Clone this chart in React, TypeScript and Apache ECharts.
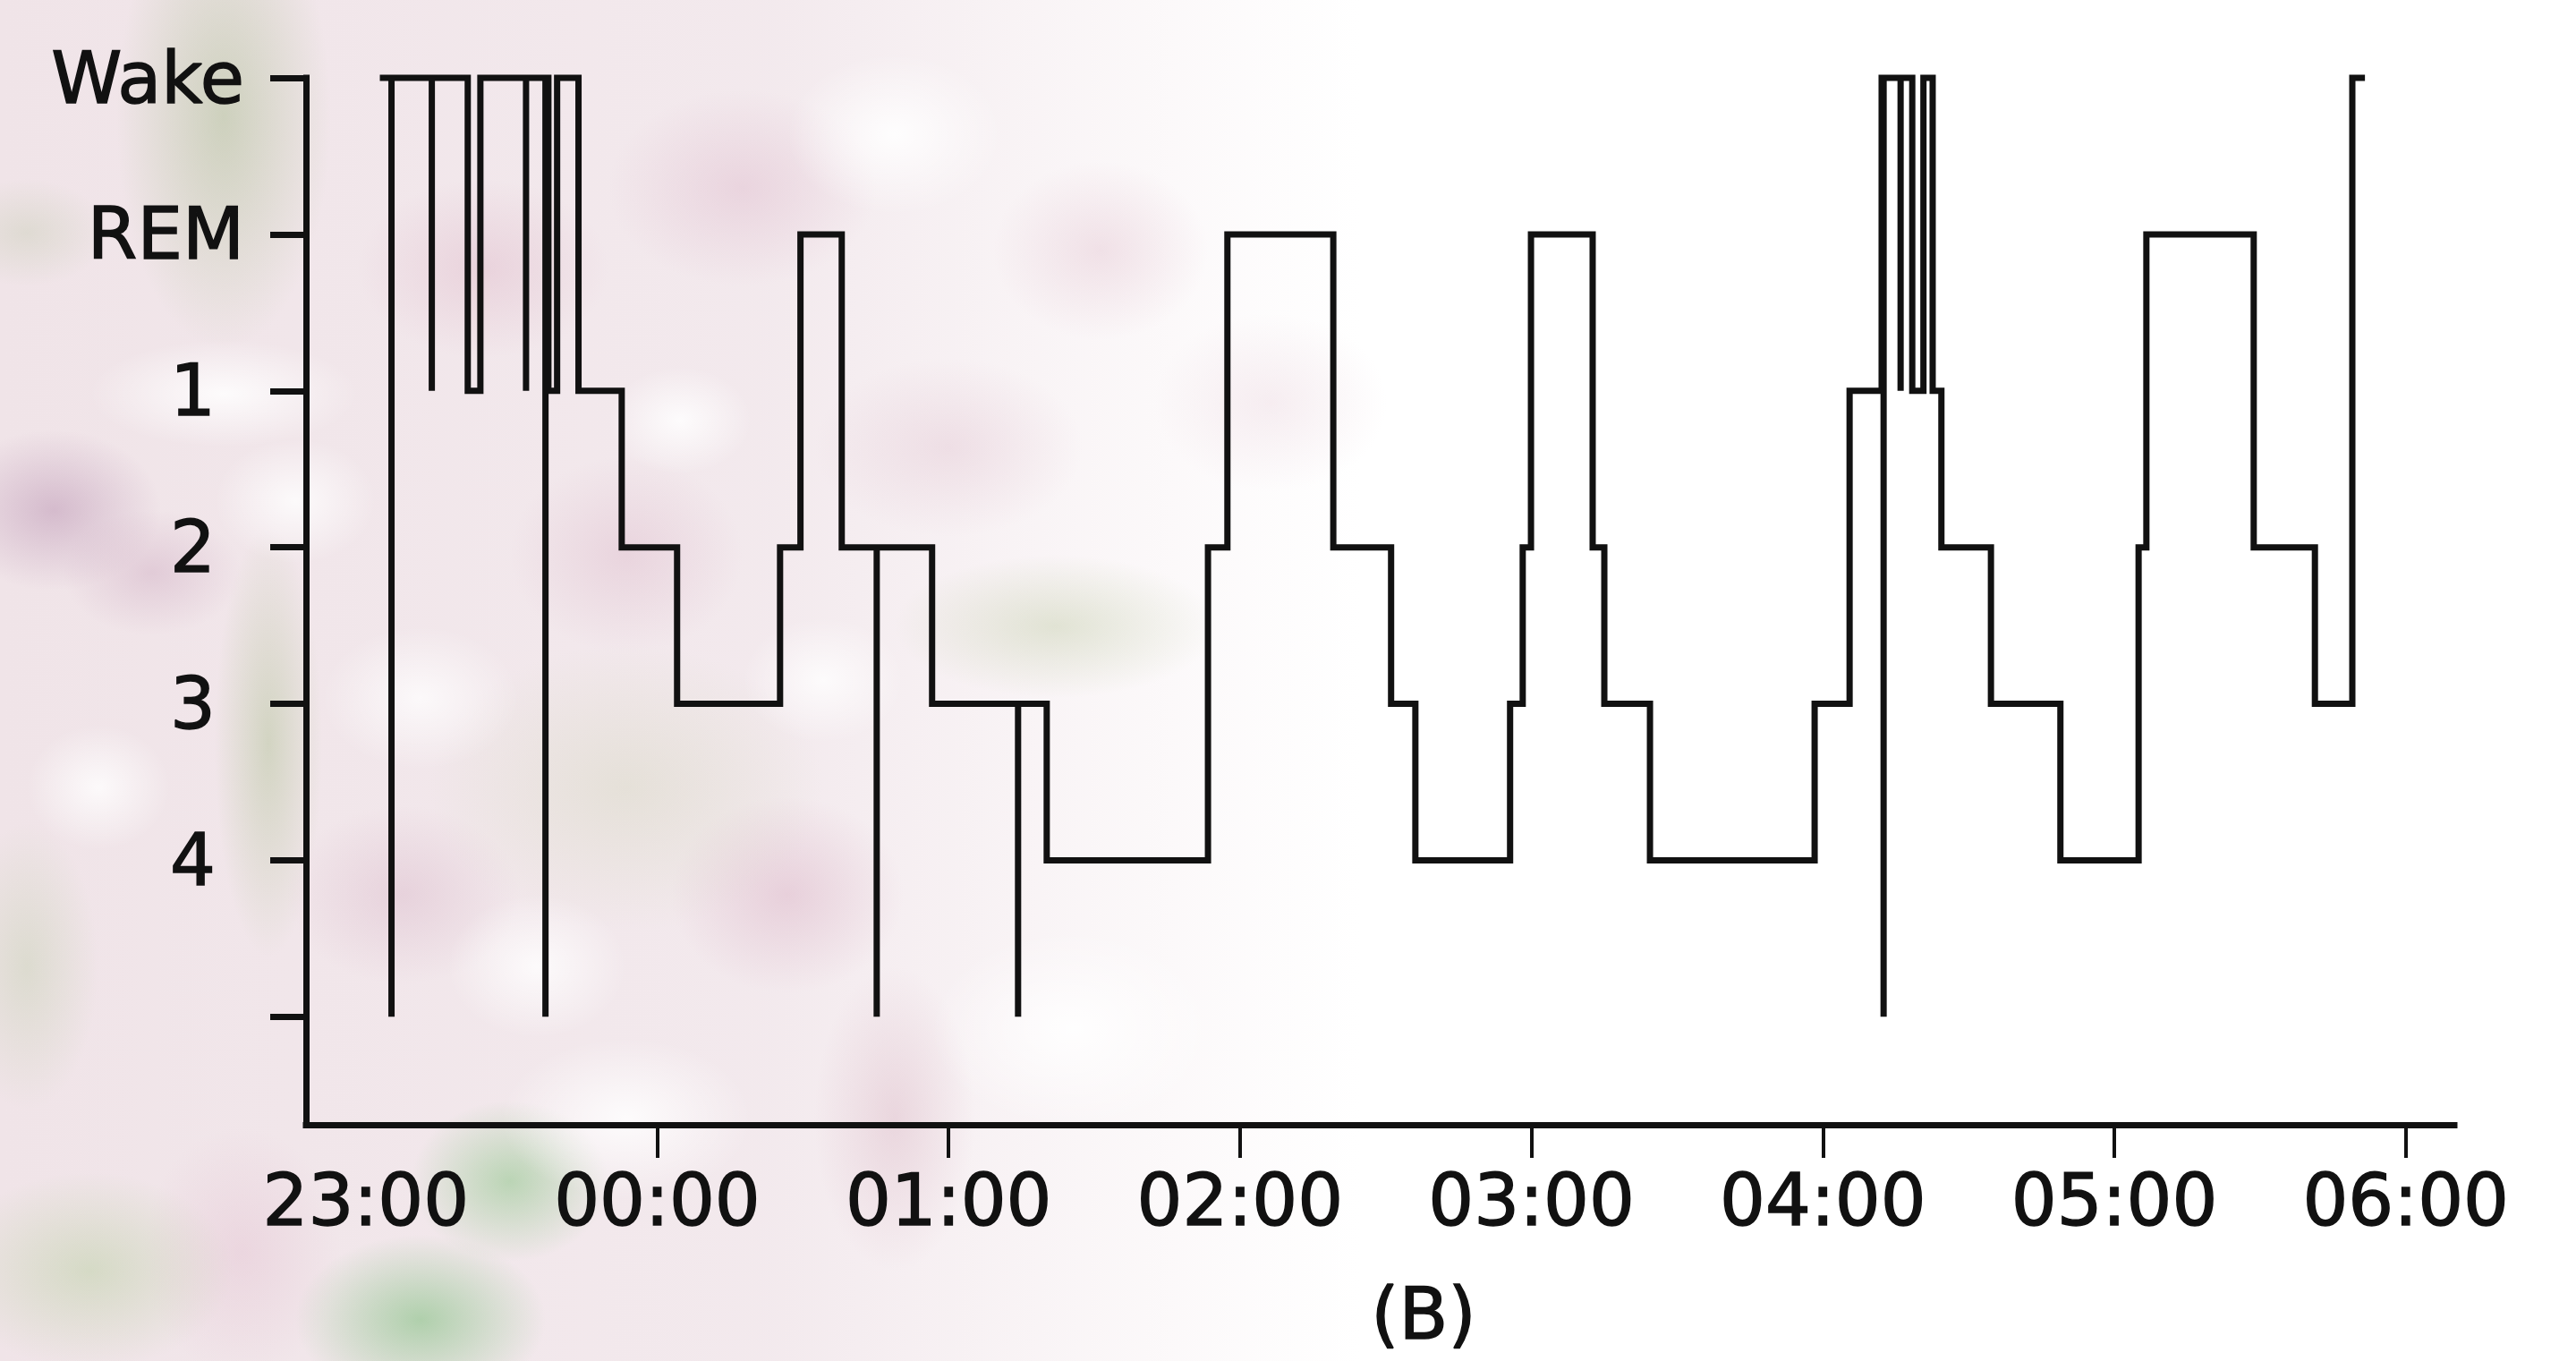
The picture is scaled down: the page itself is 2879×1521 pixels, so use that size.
import React, { useEffect, useRef } from "react";
import * as echarts from "echarts";

// Stage names, top to bottom (last level is an unlabeled movement level)
const STAGE_NAMES = ["Wake", "REM", "1", "2", "3", "4", ""];

// Minutes after 23:00 at which each stage begins, and the stage entered
const stageStart = [
  2.9, 21.0, 23.6, 37.6, 39.4, 43.8, 52.7, 64.1, 85.3, 89.5, 98.0, 116.6,
  140.2, 173.4, 177.4, 199.2, 211.1, 216.1, 235.6, 238.2, 239.9, 252.6,
  255.0, 264.4, 298.3, 305.5, 312.1, 318.4, 320.7, 322.6, 324.4, 334.6,
  348.9, 365.0, 366.6, 388.7, 401.3, 409.0,
];
const stageName = [
  "Wake", "1", "Wake", "1", "Wake", "1", "2", "3", "2", "REM", "2", "3",
  "4", "2", "REM", "2", "3", "4", "3", "2", "REM", "2",
  "3", "4", "3", "1", "Wake", "1", "Wake", "1", "2", "3",
  "4", "2", "REM", "2", "3", "Wake",
];
const recordEnd = 411.6;

// Brief excursions drawn as single vertical strokes
const spikeTime = [5.3, 13.6, 33.0, 37.0, 105.2, 134.3, 312.5, 316.0];
const spikeStage = ["", "1", "1", "", "", "", "", "1"];

// Hour tick labels (minutes after 23:00)
const hourLabelValues = [0, 60, 120, 180, 240, 300, 360, 420];
const hourTickValues = [60, 120, 180, 240, 300, 360, 420];
const stageTickValues = [0, 1, 2, 3, 4, 5, 6];

const lvl = (s: string) => STAGE_NAMES.indexOf(s);

function buildTrace(): number[][] {
  const pts: number[][] = [];
  for (let i = 0; i < stageStart.length; i++) {
    const v = lvl(stageName[i]);
    const t0 = stageStart[i];
    const t1 = i + 1 < stageStart.length ? stageStart[i + 1] : recordEnd;
    pts.push([t0, v]);
    for (let k = 0; k < spikeTime.length; k++) {
      const ts = spikeTime[k];
      if (ts >= t0 && ts < t1) {
        pts.push([ts, v], [ts, lvl(spikeStage[k])], [ts, v]);
      }
    }
    pts.push([t1, v]);
  }
  return pts;
}

const blob = (rx: number, ry: number, x: number, y: number, c: string, a: number) =>
  `radial-gradient(ellipse ${rx}px ${ry}px at ${x}px ${y}px, rgba(${c},${a}), rgba(${c},0) 100%)`;

const BG = [
  // white highlights
  blob(150, 60, 250, 440, "255,255,255", 0.85),
  blob(90, 70, 330, 560, "255,255,255", 0.8),
  blob(110, 80, 470, 780, "255,255,255", 0.75),
  blob(80, 60, 760, 470, "255,255,255", 0.85),
  blob(120, 90, 1000, 150, "255,255,255", 0.9),
  blob(100, 80, 600, 1080, "255,255,255", 0.8),
  blob(90, 70, 920, 760, "255,255,255", 0.8),
  blob(160, 110, 1200, 1150, "255,255,255", 0.9),
  blob(80, 70, 110, 880, "255,255,255", 0.8),
  blob(140, 90, 700, 1250, "255,255,255", 0.85),
  // greens
  blob(120, 260, 250, 130, "170,188,145", 0.5),
  blob(60, 240, 300, 830, "180,195,155", 0.5),
  blob(110, 90, 570, 1320, "150,200,145", 0.6),
  blob(140, 95, 470, 1475, "140,195,138", 0.65),
  blob(160, 110, 100, 1420, "180,205,155", 0.45),
  blob(180, 80, 1180, 700, "195,205,170", 0.45),
  blob(220, 160, 700, 880, "205,210,180", 0.35),
  blob(80, 160, 30, 1080, "190,205,170", 0.4),
  blob(90, 60, 30, 260, "190,200,170", 0.35),
  // pinks / mauves
  blob(120, 90, 60, 570, "198,165,190", 0.65),
  blob(100, 70, 170, 640, "210,178,198", 0.5),
  blob(140, 100, 540, 300, "225,190,205", 0.5),
  blob(150, 110, 830, 210, "225,192,208", 0.5),
  blob(120, 100, 1230, 280, "228,198,210", 0.45),
  blob(130, 110, 700, 620, "222,188,204", 0.45),
  blob(130, 110, 880, 1000, "220,182,200", 0.5),
  blob(150, 100, 1060, 500, "225,195,208", 0.4),
  blob(90, 170, 1000, 1250, "222,190,202", 0.5),
  blob(130, 100, 450, 1000, "218,185,202", 0.45),
  blob(130, 100, 1420, 450, "232,208,218", 0.35),
  blob(110, 140, 270, 1400, "228,195,210", 0.45),
  "linear-gradient(to right, rgba(240,228,232,1) 0px, rgba(242,232,236,0.95) 850px, rgba(248,242,244,0.6) 1250px, rgba(255,255,255,0) 1520px)",
].join(", ");

export default function App() {
  const ref = useRef<HTMLDivElement>(null);

  useEffect(() => {
    if (!ref.current) return;
    const chart = echarts.init(ref.current, undefined, { renderer: "svg" });
    const font = "DejaVu Sans";
    const ink = "#111";
    const bolden = { textBorderColor: ink, textBorderWidth: 1.5 };
    chart.setOption({
      animation: false,
      backgroundColor: "transparent",
      grid: { left: 342, right: 136, top: 87, bottom: 264, containLabel: false },
      xAxis: {
        type: "value",
        position: "bottom",
        min: -12.3,
        max: 430,
        axisLine: { show: true, onZero: false, lineStyle: { color: ink, width: 7, cap: "square" } },
        axisTick: {
          show: true,
          customValues: hourTickValues,
          length: 37,
          lineStyle: { color: ink, width: 4 },
        },
        axisLabel: {
          customValues: hourLabelValues,
          margin: 44,
          color: ink,
          fontFamily: font,
          fontSize: 80,
          ...bolden,
          formatter: (v: number) => {
            const h = (23 + Math.round(v / 60)) % 24;
            return String(h).padStart(2, "0") + ":00";
          },
        },
        splitLine: { show: false },
      },
      yAxis: {
        type: "value",
        position: "left",
        inverse: true,
        min: 0,
        max: 6.69,
        axisLine: { show: true, onZero: false, lineStyle: { color: ink, width: 7, cap: "square" } },
        axisTick: {
          show: true,
          customValues: stageTickValues,
          length: 40,
          lineStyle: { color: ink, width: 7 },
        },
        axisLabel: {
          customValues: stageTickValues,
          margin: 69,
          color: ink,
          fontFamily: font,
          fontSize: 80,
          formatter: (v: number) => {
            const name = STAGE_NAMES[Math.round(v)] ?? "";
            if (name === "") return "";
            return /^\d$/.test(name) ? "{d|" + name + "}" : "{w|" + name + "}";
          },
          rich: {
            d: { fontFamily: font, fontSize: 80, color: ink, padding: [0, 32, 0, 0], ...bolden },
            w: { fontFamily: font, fontSize: 80, color: ink, ...bolden },
          },
        },
        splitLine: { show: false },
      },
      series: [
        {
          type: "line",
          data: buildTrace(),
          showSymbol: false,
          symbol: "none",
          lineStyle: { color: ink, width: 7, join: "miter" },
          silent: true,
          clip: false,
        },
      ],
      graphic: [
        {
          type: "text",
          x: 1591,
          y: 1468,
          style: {
            text: "(B)",
            fill: ink,
            stroke: ink,
            lineWidth: 1.5,
            font: "80px 'DejaVu Sans'",
            textAlign: "center",
            textVerticalAlign: "middle",
          },
        },
      ],
    });
    return () => chart.dispose();
  }, []);

  return (
    <div
      style={{
        position: "fixed",
        left: 0,
        top: 0,
        width: 2879,
        height: 1521,
        background: BG + ", #ffffff",
      }}
    >
      <div ref={ref} style={{ width: 2879, height: 1521 }} />
    </div>
  );
}
